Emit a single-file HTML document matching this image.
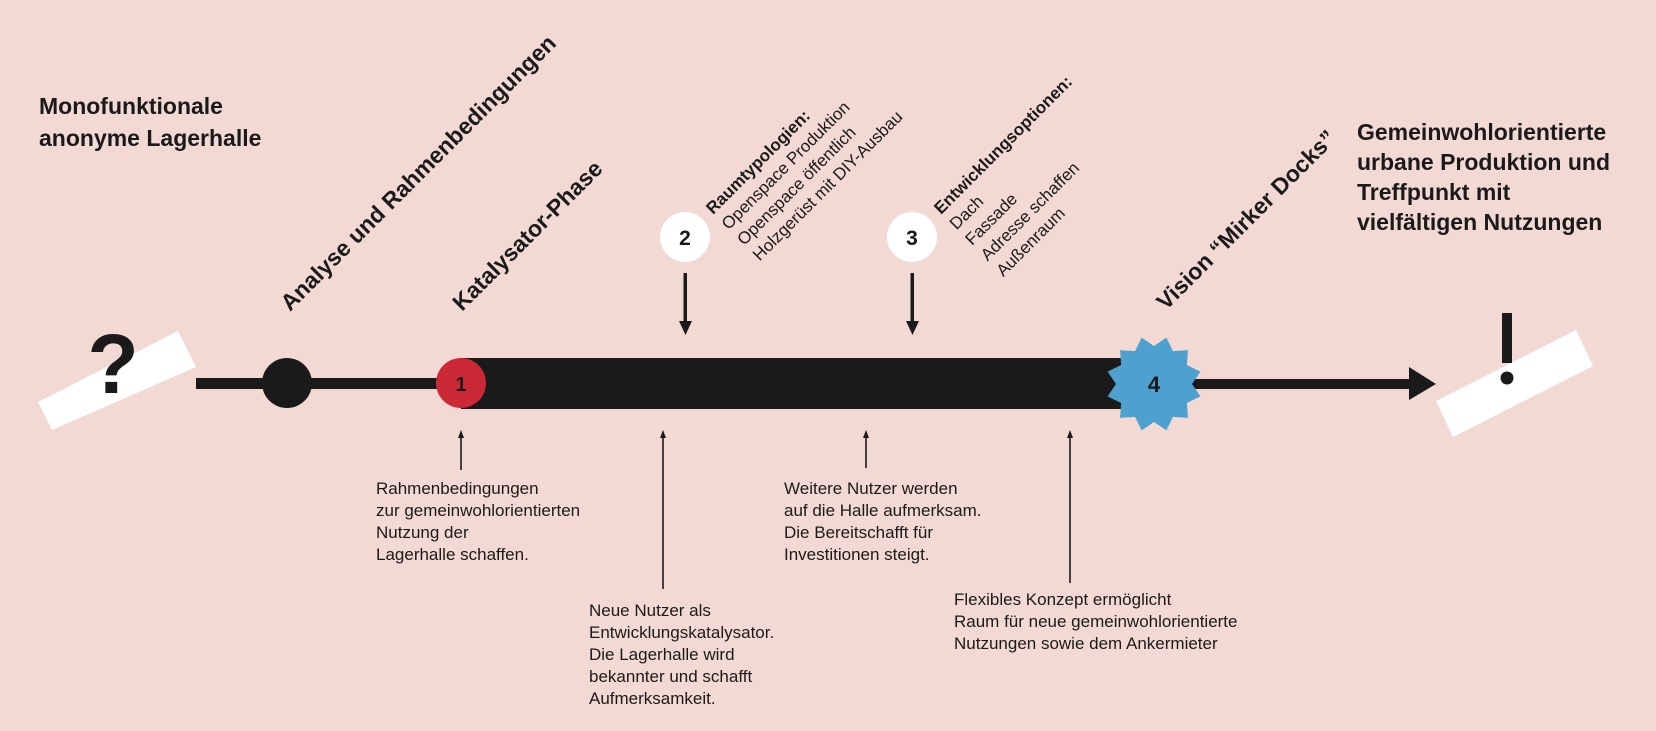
<!DOCTYPE html>
<html><head><meta charset="utf-8"><style>
html,body{margin:0;padding:0;background:#f2d9d3;}
svg{display:block;font-family:"Liberation Sans",sans-serif;}
.b{font-weight:bold;fill:#1b1a1a;}
.t{fill:#1b1a1a;font-size:17px;}
</style></head><body>
<svg width="1656" height="731" viewBox="0 0 1656 731">
<rect width="1656" height="731" fill="#f2d9d3"/>
<polygon points="38,402 178,331 196,367 52,430" fill="#fff"/>
<text x="113" y="393" text-anchor="middle" class="b" font-size="84">?</text>
<rect x="196" y="378" width="265" height="11" fill="#1b1a1a"/>
<circle cx="287" cy="383" r="25" fill="#1b1a1a"/>
<rect x="461" y="358" width="670" height="51" fill="#1b1a1a"/>
<circle cx="461" cy="383" r="25" fill="#cc2936"/>
<text x="461" y="391" text-anchor="middle" class="b" font-size="20">1</text>
<rect x="1180" y="379" width="232" height="10" fill="#1b1a1a"/>
<polygon points="1409,367 1436,384 1409,400" fill="#1b1a1a"/>
<g transform="translate(1154,384)">
<polygon fill="#4ea0ce" points="38,0 46.4,12.4 32.9,19 33.9,33.9 19,32.9 12.4,46.4 0,38 -12.4,46.4 -19,32.9 -33.9,33.9 -32.9,19 -46.4,12.4 -38,0 -46.4,-12.4 -32.9,-19 -33.9,-33.9 -19,-32.9 -12.4,-46.4 0,-38 12.4,-46.4 19,-32.9 33.9,-33.9 32.9,-19 46.4,-12.4"/>
<text x="0" y="8" text-anchor="middle" class="b" font-size="22">4</text>
</g>
<polygon points="1436,401 1576,330 1593,366 1453,437" fill="#fff"/>
<rect x="1502" y="313" width="10" height="50" fill="#1b1a1a"/>
<circle cx="1507" cy="378" r="6.5" fill="#1b1a1a"/>
<circle cx="685" cy="237" r="25" fill="#fff"/>
<text x="685" y="245" text-anchor="middle" class="b" font-size="21">2</text>
<circle cx="912" cy="237" r="25" fill="#fff"/>
<text x="912" y="245" text-anchor="middle" class="b" font-size="21">3</text>
<rect x="683.5" y="273" width="3.5" height="50" fill="#1b1a1a"/>
<polygon points="679,321 685.5,335 692,321" fill="#1b1a1a"/>
<rect x="910.5" y="273" width="3.5" height="50" fill="#1b1a1a"/>
<polygon points="906,321 912.5,335 919,321" fill="#1b1a1a"/>
<text class="b" font-size="23"><tspan x="39" y="114">Monofunktionale</tspan><tspan x="39" y="146">anonyme Lagerhalle</tspan></text>
<text class="b" font-size="23"><tspan x="1357" y="140">Gemeinwohlorientierte</tspan><tspan x="1357" y="170">urbane Produktion und</tspan><tspan x="1357" y="200">Treffpunkt mit</tspan><tspan x="1357" y="230">vielfältigen Nutzungen</tspan></text>
<text class="b" font-size="23" transform="translate(290,312) rotate(-45)">Analyse und Rahmenbedingungen</text>
<text class="b" font-size="23" transform="translate(462,312) rotate(-45)">Katalysator-Phase</text>
<text class="b" font-size="23" transform="translate(1166,311) rotate(-45)">Vision “Mirker Docks”</text>
<g transform="translate(713,215) rotate(-45)">
<text class="t" font-size="18.5"><tspan x="0" y="0" font-weight="bold">Raumtypologien:</tspan><tspan x="0" y="22">Openspace Produktion</tspan><tspan x="0" y="44">Openspace öffentlich</tspan><tspan x="0" y="66">Holzgerüst mit DIY-Ausbau</tspan></text>
</g>
<g transform="translate(941,215) rotate(-45)">
<text class="t" font-size="18.5"><tspan x="0" y="0" font-weight="bold">Entwicklungsoptionen:</tspan><tspan x="0" y="22">Dach</tspan><tspan x="0" y="44">Fassade</tspan><tspan x="0" y="66">Adresse schaffen</tspan><tspan x="0" y="88">Außenraum</tspan></text>
</g>
<g stroke="#1b1a1a" stroke-width="1.6">
<line x1="461" y1="437" x2="461" y2="470"/>
<line x1="663" y1="437" x2="663" y2="589"/>
<line x1="866" y1="437" x2="866" y2="468"/>
<line x1="1070" y1="437" x2="1070" y2="583"/>
</g>
<g fill="#1b1a1a">
<polygon points="458,438 461,430 464,438"/>
<polygon points="660,438 663,430 666,438"/>
<polygon points="863,438 866,430 869,438"/>
<polygon points="1067,438 1070,430 1073,438"/>
</g>
<text class="t"><tspan x="376" y="494">Rahmenbedingungen</tspan><tspan x="376" y="516">zur gemeinwohlorientierten</tspan><tspan x="376" y="538">Nutzung der</tspan><tspan x="376" y="560">Lagerhalle schaffen.</tspan></text>
<text class="t"><tspan x="589" y="616">Neue Nutzer als</tspan><tspan x="589" y="638">Entwicklungskatalysator.</tspan><tspan x="589" y="660">Die Lagerhalle wird</tspan><tspan x="589" y="682">bekannter und schafft</tspan><tspan x="589" y="704">Aufmerksamkeit.</tspan></text>
<text class="t"><tspan x="784" y="494">Weitere Nutzer werden</tspan><tspan x="784" y="516">auf die Halle aufmerksam.</tspan><tspan x="784" y="538">Die Bereitschafft für</tspan><tspan x="784" y="560">Investitionen steigt.</tspan></text>
<text class="t"><tspan x="954" y="605">Flexibles Konzept ermöglicht</tspan><tspan x="954" y="627">Raum für neue gemeinwohlorientierte</tspan><tspan x="954" y="649">Nutzungen sowie dem Ankermieter</tspan></text>
</svg>
</body></html>
